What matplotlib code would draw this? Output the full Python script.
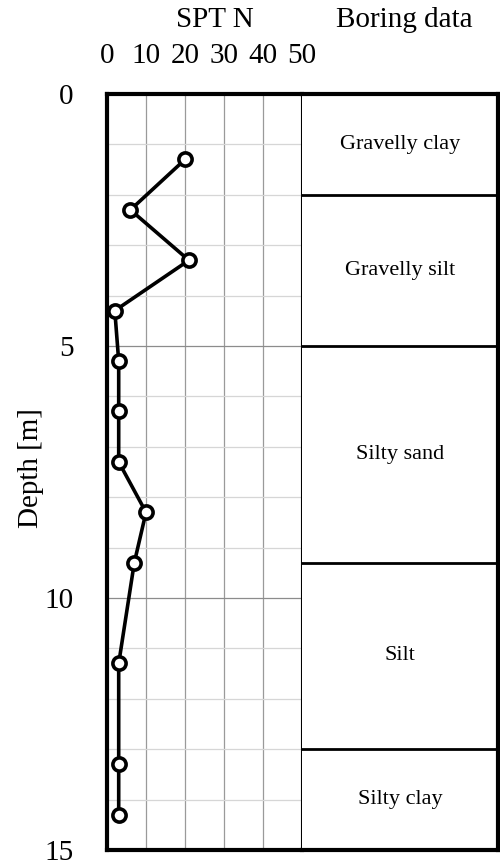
import numpy as np
import matplotlib
matplotlib.use('Agg')
import matplotlib.pyplot as plt

plt.rcParams['font.family'] = ['Liberation Serif', 'DejaVu Serif']

# SPT N 값 (깊이별)
depth = [1.3, 2.3, 3.3, 4.3, 5.3, 6.3, 7.3, 8.3, 9.3, 11.3, 13.3, 14.3]
spt_n = [20, 6, 21, 2, 3, 3, 3, 10, 7, 3, 3, 3]

# 시추 주상도 층 정보
layer_names = ['Gravelly clay', 'Gravelly silt', 'Silty sand', 'Silt', 'Silty clay']
layer_top = [0, 2, 5, 9.3, 13]
layer_bot = [2, 5, 9.3, 13, 15]

n_ticks = [0, 10, 20, 30, 40, 50]
depth_ticks = [0, 5, 10, 15]

fig = plt.figure(figsize=(5, 8.66), dpi=100)
ax = fig.add_axes([0.214, 0.0185, 0.39, 0.873])
ax2 = fig.add_axes([0.604, 0.0185, 0.392, 0.873])

# SPT 패널
ax.set_xlim(0, 50)
ax.set_ylim(15, 0)
for v in n_ticks[1:-1]:
    ax.axvline(v, color='#9a9a9a', lw=0.9, zorder=1)
for d in range(1, 15):
    c = '#8c8c8c' if d % 5 == 0 else '#d6d6d6'
    ax.axhline(d, color=c, lw=0.9, zorder=1)
ax.plot(spt_n, depth, color='black', lw=2.6, marker='o', ms=9.5,
        mfc='white', mec='black', mew=2.6, zorder=3)

ax.xaxis.tick_top()
ax.set_xticks(n_ticks)
ax.set_yticks(depth_ticks)
ax.tick_params(axis='x', length=0, pad=18, labelsize=21)
ax.tick_params(axis='y', length=0, pad=24, labelsize=21)
for s in ['left', 'top', 'bottom']:
    ax.spines[s].set_linewidth(3)
ax.spines['right'].set_linewidth(1.5)

# 주상도 패널
ax2.set_xlim(0, 1)
ax2.set_ylim(15, 0)
for t, b, name in zip(layer_top, layer_bot, layer_names):
    if t > 0:
        ax2.axhline(t, color='black', lw=2)
    ax2.text(0.5, (t + b) / 2, name, ha='center', va='center', fontsize=16)
ax2.set_xticks([])
ax2.set_yticks([])
ax2.spines['left'].set_visible(False)
for s in ['right', 'top', 'bottom']:
    ax2.spines[s].set_linewidth(3)

fig.text(0.43, 1 - 20 / 866, 'SPT N', ha='center', va='center', fontsize=21)
fig.text(0.808, 1 - 20 / 866, 'Boring data', ha='center', va='center', fontsize=21)
fig.text(0.062, 1 - 468 / 866, 'Depth [m]', ha='center', va='center',
         rotation=90, fontsize=21)

fig.savefig('out.png', dpi=100)
